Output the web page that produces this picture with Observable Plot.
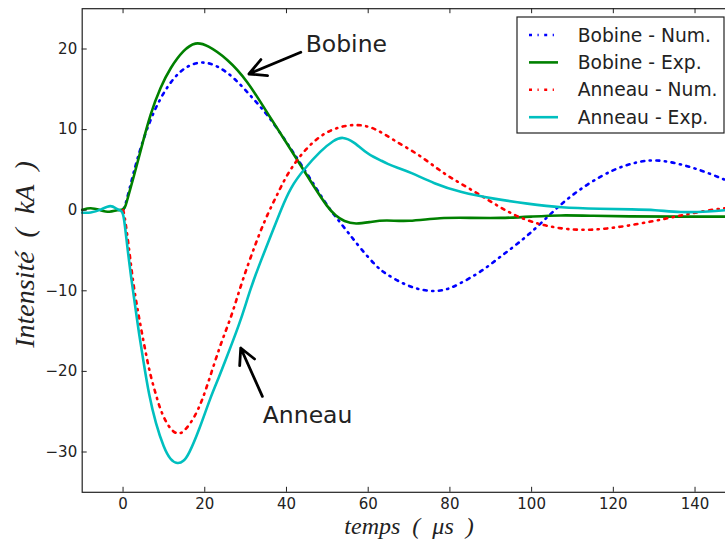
<!DOCTYPE html>
<html><head><meta charset="utf-8">
<script src="https://cdn.jsdelivr.net/npm/d3@7"></script>
<script src="https://cdn.jsdelivr.net/npm/@observablehq/plot@0.6"></script>
<style>html,body{margin:0;padding:0;background:#fff;overflow:hidden;width:725px;height:541px}</style>
</head><body><div id="chart"></div>
<script>
// ---- data (time in µs, current in kA) ----
const bobineNumT = [0,0.5,1.5,2.6,4.3,6.7,9.2,12.4,15.7,19.4,23.1,27.1,31.2,35.5,40.2,45,49.6,52.4,55.3,58.2,62.2,64.3,68.4,72,75.8,79,81.8,87.5,92,96.5,101.4,107.1,113.7,120.2,125,130,136.5,143,150];
const bobineNumV = [0,0.5,2.5,4.7,7.8,11.3,14.0,16.5,17.95,18.5,17.95,16.5,14.2,11.8,8.3,4.6,0.8,-1.07,-2.9,-4.8,-7.1,-7.9,-9.1,-9.8,-10.1,-9.9,-9.3,-7.7,-5.9,-4.2,-2.1,0.8,3.3,5.1,5.9,6.35,5.75,4.7,3.2];

const bobineExpT = [-10,-8,-5.5,-3.3,-1.4,0,0.6,1.5,2.6,4.3,6.7,9.2,11.6,14.8,17.7,20.6,25.5,30.4,35.5,40.2,44.3,47,50,52,54.1,56.9,60.6,64.3,69.6,77.7,85,92.4,100,107,115,123.5,135,150];
const bobineExpV = [0.05,0.35,0,-0.3,0.05,0,0.4,2.2,4.1,7.4,12,15.3,17.7,19.9,20.9,20.5,18.8,16.1,11.9,8.2,4.9,2.7,0.4,-0.7,-1.4,-1.75,-1.45,-1.2,-1.45,-0.9,-0.95,-1.0,-0.8,-0.6,-0.7,-0.78,-0.8,-0.8];

const anneauNumT = [0,0.3,1.4,2.5,4.1,5.75,6.7,8.0,9.2,11.2,13.3,14.9,17.3,19.4,21.4,23.5,25.1,26.7,29.2,32.4,34.5,36.5,37.8,39.8,42.2,45.1,48.4,52.4,56.9,61.4,66.3,72.8,78.5,84.3,90.8,96.5,103.9,112.8,121.8,130,136.5,143,150];
const anneauNumV = [0,-0.4,-4.4,-9.3,-13.9,-18.2,-20.5,-22.8,-24.9,-27.0,-27.9,-27.5,-25.9,-23.6,-20.5,-17.2,-15.0,-12.9,-8.7,-4.2,-1.5,0.7,2.0,4.1,6.0,7.8,9.3,10.3,10.7,10.3,8.65,6.8,4.5,2.85,0.8,-0.87,-2.1,-2.6,-2.1,-1.35,-0.65,0,0.4];

const anneauExpT = [-10,-8,-5.5,-3,-1.4,-0.3,0.2,1.0,2.0,3.06,3.9,5.1,6.3,8.0,10,11.6,13.3,14.8,16.1,18.6,21.4,23.5,24.7,26.3,28.8,31.2,33.7,36.3,38.6,41,44.3,48.4,51.6,53.7,56.5,59.8,61.4,63,64.7,67,70.4,76.1,82.6,90.8,99,107.1,116.9,125,130,136.5,143,150];
const anneauExpV = [-0.3,-0.35,0,0.75,0.05,-0.05,-0.66,-4.4,-8.5,-12.2,-15.3,-19.1,-22.8,-26.5,-29.5,-31.0,-31.5,-31.2,-30.3,-27.3,-23.2,-20.7,-19.1,-17.0,-13.7,-9.7,-6.3,-3.0,0,2.85,5.1,7.4,8.7,9.15,8.5,7.0,6.6,6.2,5.75,5.3,4.7,3.3,2.2,1.4,0.8,0.3,0.17,0.1,0.05,-0.3,-0.2,0.1];

const seriesNames = ["Bobine - Num.","Bobine - Exp.","Anneau - Num.","Anneau - Exp."];
const seriesColors = ["#0000ff","#008000","#ff0000","#00bfbf"];
const seriesDashed = [true,false,true,false];

const xTicks = [0,20,40,60,80,100,120,140];
const yTicks = [-30,-20,-10,0,10,20];
const xDomain = [-10,150];
const yDomain = [-35,25];
const xLabel = "temps\u2002(\u2002μs\u2002)";
const yLabel = "Intensité\u2002(\u2002kA\u2002)";

const annLabels = ["Bobine","Anneau"];
const annLabelT = [44.7,34.2];
const annLabelV = [20.6,-25.5];
const annArrowT1 = [43.5,34.1];
const annArrowV1 = [19.6,-23.1];
const annArrowT2 = [30.8,28.8];
const annArrowV2 = [16.9,-17.1];

// ---- build ----
const seriesT = [bobineNumT,bobineExpT,anneauNumT,anneauExpT];
const seriesV = [bobineNumV,bobineExpV,anneauNumV,anneauExpV];
const rows = seriesNames.map((s,i)=>seriesT[i].map((t,j)=>({t, v: seriesV[i][j], s})));
const labels = annLabels.map((text,i)=>({text, t: annLabelT[i], v: annLabelV[i]}));
const arrows = annLabels.map((text,i)=>({t1: annArrowT1[i], v1: annArrowV1[i], t2: annArrowT2[i], v2: annArrowV2[i]}));

const W = 725, H = 541;
const mL = 81.7, mR = -10.4, mT = 8.2, mB = 49.2;
const frameW = W - mL - mR, frameH = H - mT - mB;
const dash = "3,5.5,1.2,5.5";

const marks = [];
rows.forEach((r,i)=>{
  marks.push(Plot.line(r, {x:"t", y:"v", stroke: seriesColors[i], strokeWidth: 2.6,
    strokeDasharray: seriesDashed[i] ? dash : null, curve: "basis"}));
});
marks.push(
  Plot.frame({stroke:"#222", strokeWidth:1.2}),
  Plot.tickX(xTicks, {x: d=>d, insetTop: frameH-5, stroke:"#222"}),
  Plot.tickX(xTicks, {x: d=>d, insetBottom: frameH-5, stroke:"#222"}),
  Plot.tickY(yTicks, {y: d=>d, insetRight: frameW-5, stroke:"#222"}),
  Plot.axisX(xTicks, {tickSize: 0, tickPadding: 6, fontSize: 15, label: null, fill:"#222",
    tickFormat: d => d < 0 ? "\u2212" + Math.abs(d) : String(d)}),
  Plot.axisY(yTicks, {tickSize: 0, tickPadding: 5, fontSize: 15, label: null, fill:"#222",
    tickFormat: d => d < 0 ? "\u2212" + Math.abs(d) : String(d)}),
  Plot.arrow(arrows, {x1:"t1", y1:"v1", x2:"t2", y2:"v2", stroke:"black", strokeWidth: 2.8, headLength: 15, headAngle: 55}),
  Plot.text(labels, {x:"t", y:"v", text:"text", textAnchor:"start", fontSize: 23.5, fill:"#222"}),
  Plot.text([xLabel], {frameAnchor:"bottom", lineAnchor:"middle", textAnchor:"middle", dy: 34, fontSize: 24, fontStyle:"italic", fontFamily:"Liberation Serif", fill:"#222"}),
  Plot.text([yLabel], {frameAnchor:"left", lineAnchor:"middle", textAnchor:"middle", dx: -57, dy: 4, rotate: -90, fontSize: 28, fontStyle:"italic", fontFamily:"Liberation Serif", fill:"#222"})
);

const plot = Plot.plot({
  width: W, height: H,
  marginLeft: mL, marginRight: mR, marginTop: mT, marginBottom: mB,
  style: {fontFamily: "DejaVu Sans", background: "#fff", overflow: "hidden"},
  x: {domain: xDomain, axis: null},
  y: {domain: yDomain, axis: null},
  marks
});

// legend
const svg = d3.select(plot);
const lg = svg.append("g").attr("transform","translate(517,17)");
lg.append("rect").attr("x",0).attr("y",0).attr("width",207).attr("height",116)
  .attr("fill","#fff").attr("stroke","#222").attr("stroke-width",1.2);
seriesNames.forEach((name,i)=>{
  const cy = 18 + i*27.4;
  lg.append("line").attr("x1",12).attr("x2",41).attr("y1",cy).attr("y2",cy)
    .attr("stroke",seriesColors[i]).attr("stroke-width",2.6)
    .attr("stroke-dasharray", seriesDashed[i] ? dash : null);
  lg.append("text").attr("x",60.7).attr("y",cy).attr("dy","0.35em")
    .attr("text-anchor","start")
    .attr("font-family","DejaVu Sans").attr("font-size",18.7).attr("fill","#222").text(name);
});
document.getElementById("chart").appendChild(plot);
</script>
</body></html>
